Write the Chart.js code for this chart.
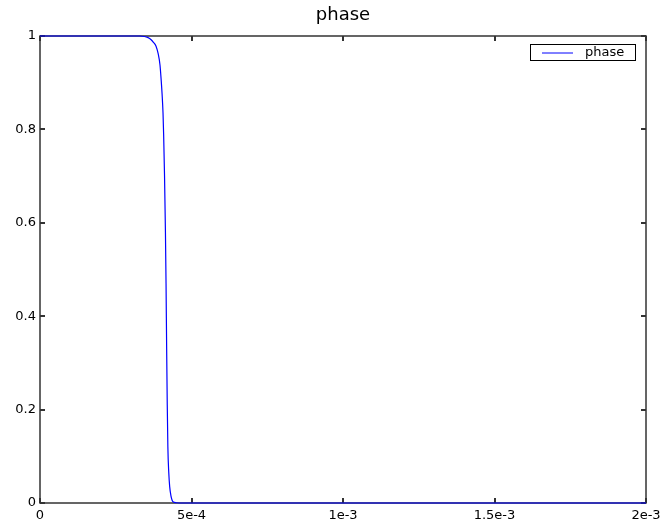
<!DOCTYPE html>
<html>
<head>
<meta charset="utf-8">
<script src="https://cdn.jsdelivr.net/npm/chart.js@4/dist/chart.umd.min.js"></script>
<style>
  html, body { margin: 0; padding: 0; background: #fff; }
  #wrap { width: 662px; height: 524px; }
</style>
</head>
<body>
<div id="wrap"><canvas id="phaseChart" width="662" height="524"></canvas></div>
<script>
// time (s) and phase values
var times = [0, 0.0003, 0.00033, 0.000345, 0.000355, 0.000365, 0.000375, 0.000383, 0.00039, 0.000396,
    0.0004, 0.000403, 0.000406, 0.000408, 0.000411, 0.000414, 0.000416, 0.000418, 0.00042, 0.000422,
    0.000425, 0.000428, 0.000432, 0.000436, 0.00044, 0.00045, 0.00047, 0.002];
var phase = [1, 1, 1, 0.999, 0.997, 0.993, 0.986, 0.978, 0.962, 0.938,
    0.905, 0.875, 0.835, 0.79, 0.70, 0.58, 0.47, 0.33, 0.21, 0.12,
    0.065, 0.035, 0.016, 0.006, 0.002, 0.0005, 0, 0];

var xTickValues = [0, 0.0005, 0.001, 0.0015, 0.002];
var xTickLabels = ["0", "5e-4", "1e-3", "1.5e-3", "2e-3"];
var yTickValues = [0, 0.2, 0.4, 0.6, 0.8, 1];
var yTickLabels = ["0", "0.2", "0.4", "0.6", "0.8", "1"];

var seriesName = "phase";
var lineColor = "#0000ff";
var frameColor = "#333333";

(function () {

    var points = times.map(function (t, i) {
        return { x: t, y: phase[i] };
    });

    // frame round the plot with inward ticks on all four sides
    var framePlugin = {
        id: "frame",
        beforeDatasetsDraw: function (chart) {
            var ctx = chart.ctx;
            var area = chart.chartArea;
            var xs = chart.scales.x;
            var ys = chart.scales.y;
            var len = 5;
            ctx.save();
            ctx.strokeStyle = frameColor;
            ctx.lineWidth = 1.5;
            ctx.strokeRect(area.left, area.top, area.right - area.left, area.bottom - area.top);
            ctx.lineWidth = 2;
            ctx.beginPath();
            xs.ticks.forEach(function (tick) {
                var px = Math.round(xs.getPixelForValue(tick.value));
                ctx.moveTo(px, area.bottom);
                ctx.lineTo(px, area.bottom - len);
                ctx.moveTo(px, area.top);
                ctx.lineTo(px, area.top + len);
            });
            ys.ticks.forEach(function (tick) {
                var py = Math.round(ys.getPixelForValue(tick.value));
                ctx.moveTo(area.left, py);
                ctx.lineTo(area.left + len, py);
                ctx.moveTo(area.right, py);
                ctx.lineTo(area.right - len, py);
            });
            ctx.stroke();
            ctx.restore();
        },
        afterDraw: function (chart) {
            // small boxed legend in the upper right corner
            var ctx = chart.ctx;
            var ds = chart.data.datasets[0];
            ctx.save();
            ctx.fillStyle = "#fff";
            ctx.fillRect(531, 45, 104, 15);
            ctx.strokeStyle = "#000";
            ctx.lineWidth = 1;
            ctx.strokeRect(530.5, 44.5, 105, 16);
            ctx.strokeStyle = ds.borderColor;
            ctx.beginPath();
            ctx.moveTo(542, 53);
            ctx.lineTo(573, 53);
            ctx.stroke();
            ctx.fillStyle = "#000";
            ctx.font = "13px 'DejaVu Sans'";
            ctx.textBaseline = "middle";
            ctx.fillText(ds.label, 585, 52.5);
            ctx.restore();
        }
    };

    var ctx = document.getElementById("phaseChart").getContext("2d");
    new Chart(ctx, {
        type: "line",
        data: {
            datasets: [{
                label: seriesName,
                data: points,
                borderColor: lineColor,
                backgroundColor: lineColor,
                borderWidth: 1.2,
                borderJoinStyle: "round",
                cubicInterpolationMode: "monotone",
                pointRadius: 0,
                fill: false,
                clip: 3
            }]
        },
        options: {
            responsive: false,
            animation: false,
            layout: { padding: { left: 0, right: 16, top: 0, bottom: 0 } },
            plugins: {
                legend: { display: false },
                tooltip: { enabled: false },
                title: {
                    display: true,
                    fullSize: false,
                    text: seriesName,
                    color: "#000",
                    font: { family: "'DejaVu Sans'", size: 18, weight: "normal", lineHeight: 1.2 },
                    padding: { top: 5, bottom: 9.4 }
                }
            },
            scales: {
                x: {
                    type: "linear",
                    min: 0,
                    max: 0.002,
                    grid: { display: false, drawTicks: false },
                    border: { display: false },
                    afterBuildTicks: function (scale) {
                        scale.ticks = xTickValues.map(function (v) { return { value: v }; });
                    },
                    afterFit: function (scale) {
                        scale.height = 21;
                        scale.paddingLeft = 0;
                        scale.paddingRight = 0;
                    },
                    ticks: {
                        color: "#000",
                        font: { family: "'DejaVu Sans'", size: 13 },
                        padding: 5,
                        maxRotation: 0,
                        autoSkip: false,
                        callback: function (v, i) { return xTickLabels[i]; }
                    }
                },
                y: {
                    type: "linear",
                    min: 0,
                    max: 1,
                    grid: { display: false, drawTicks: false },
                    border: { display: false },
                    afterBuildTicks: function (scale) {
                        scale.ticks = yTickValues.map(function (v) { return { value: v }; });
                    },
                    afterFit: function (scale) {
                        scale.width = 40;
                        scale.paddingTop = 0;
                        scale.paddingBottom = 0;
                    },
                    ticks: {
                        color: "#000",
                        font: { family: "'DejaVu Sans'", size: 13 },
                        padding: 4,
                        callback: function (v, i) { return yTickLabels[i]; }
                    }
                }
            }
        },
        plugins: [framePlugin]
    });

})();
</script>
</body>
</html>
